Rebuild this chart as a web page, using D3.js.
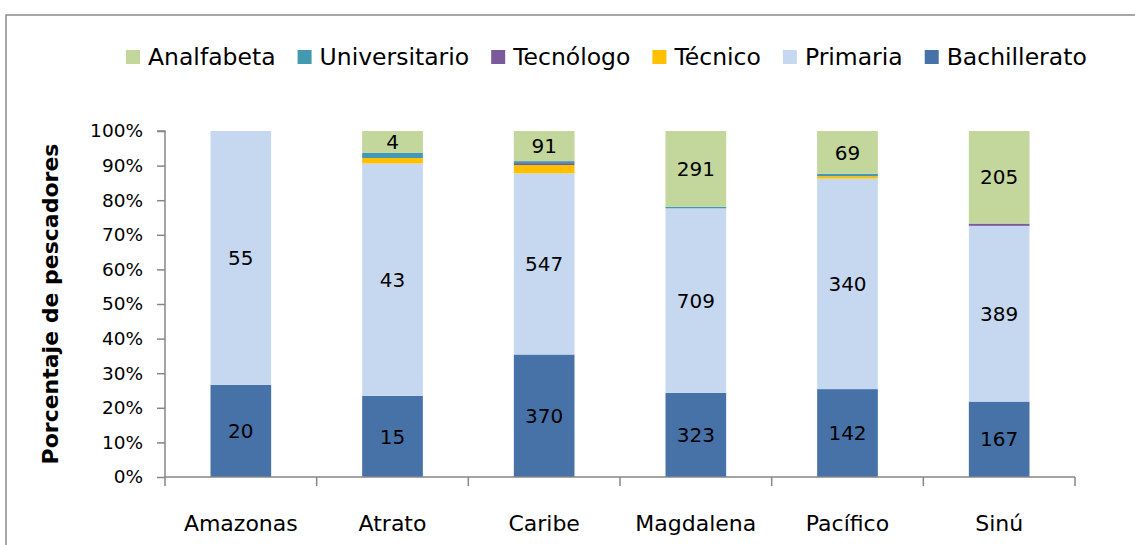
<!DOCTYPE html>
<html>
<head>
<meta charset="utf-8">
<script src="https://cdn.jsdelivr.net/npm/d3@7"></script>
<style>
  body { margin: 0; background: #fff; }
  text { font-family: "DejaVu Sans", sans-serif; fill: #000; }
</style>
</head>
<body>
<script>
// regions along the x axis
const regions = ["Amazonas", "Atrato", "Caribe", "Magdalena", "Pacífico", "Sinú"];
// counts per education level (bottom of the stack first)
const bachillerato  = [20, 15, 370, 323, 142, 167];
const primaria      = [55, 43, 547, 709, 340, 389];
const tecnico       = [0, 1, 25, 0, 4, 0];
const tecnologo     = [0, 0, 6, 0, 0, 5];
const universitario = [0, 1, 6, 6, 4, 0];
const analfabeta    = [0, 4, 91, 291, 69, 205];
// which segments get a value label
const labelled = ["Bachillerato", "Primaria", "Analfabeta"];
const yTicks = [0, 0.1, 0.2, 0.3, 0.4, 0.5, 0.6, 0.7, 0.8, 0.9, 1];

const series = [
  {name: "Bachillerato", values: bachillerato, color: "#4672a8"},
  {name: "Primaria", values: primaria, color: "#c6d8f0"},
  {name: "Técnico", values: tecnico, color: "#ffc000"},
  {name: "Tecnólogo", values: tecnologo, color: "#7a5a98"},
  {name: "Universitario", values: universitario, color: "#4399b0"},
  {name: "Analfabeta", values: analfabeta, color: "#c3d69b"}
];
const legendOrder = ["Analfabeta", "Universitario", "Tecnólogo", "Técnico", "Primaria", "Bachillerato"];

const W = 1135, H = 545;
const margin = {top: 131, right: 60, bottom: 68, left: 165};

const svg = d3.select("body").append("svg")
  .attr("width", W)
  .attr("height", H);

// chart frame (only top and left edges visible)
svg.append("path")
  .attr("d", "M6,545V15H1135")
  .attr("fill", "none")
  .attr("stroke", "#8c8c8c")
  .attr("stroke-width", 1.5);

const rows = regions.map((r, i) => {
  const row = {region: r};
  series.forEach(s => row[s.name] = s.values[i]);
  return row;
});

const stack = d3.stack()
  .keys(series.map(s => s.name))
  .offset(d3.stackOffsetExpand);
const layers = stack(rows);

const x = d3.scaleBand()
  .domain(regions)
  .range([margin.left, W - margin.right])
  .paddingInner(0.6)
  .paddingOuter(0.3);

const y = d3.scaleLinear()
  .domain([0, 1])
  .range([H - margin.bottom, margin.top]);

const color = d3.scaleOrdinal()
  .domain(series.map(s => s.name))
  .range(series.map(s => s.color));

// bars
const g = svg.append("g");
g.selectAll("g.layer")
  .data(layers)
  .join("g")
    .attr("class", "layer")
    .attr("fill", d => color(d.key))
  .selectAll("rect")
  .data(d => d.map(p => Object.assign(p, {key: d.key})))
  .join("rect")
    .attr("x", d => x(d.data.region))
    .attr("width", x.bandwidth())
    .attr("y", d => y(d[1]))
    .attr("height", d => y(d[0]) - y(d[1]));

// value labels
g.selectAll("g.lab")
  .data(layers.filter(l => labelled.includes(l.key)))
  .join("g")
    .attr("class", "lab")
  .selectAll("text")
  .data(d => d.filter(p => p.data[d.key] > 0).map(p => ({p: p, key: d.key})))
  .join("text")
    .attr("x", d => x(d.p.data.region) + x.bandwidth() / 2)
    .attr("y", d => y((d.p[0] + d.p[1]) / 2))
    .attr("dy", "0.36em")
    .attr("text-anchor", "middle")
    .style("font-size", "20px")
    .text(d => d.p.data[d.key]);

// y axis
const yAxis = svg.append("g")
  .attr("transform", `translate(${margin.left},0)`)
  .call(d3.axisLeft(y).tickValues(yTicks).tickFormat(d3.format(".0%")).tickSize(8).tickPadding(14));
yAxis.selectAll("text").style("font-size", "18.5px").attr("fill", "#000");
yAxis.selectAll("line, path").attr("stroke", "#868686").attr("stroke-width", 1.5);
yAxis.select(".domain").attr("d", `M-8,${y(1)}H0V${y(0)}`);

// x axis with ticks between categories
const xAxis = svg.append("g")
  .attr("transform", `translate(0,${y(0)})`);
xAxis.append("line")
  .attr("x1", margin.left).attr("x2", W - margin.right)
  .attr("stroke", "#868686").attr("stroke-width", 1.5);
const bounds = d3.range(regions.length + 1).map(i => margin.left + i * (W - margin.right - margin.left) / regions.length);
xAxis.selectAll("line.tick")
  .data(bounds)
  .join("line")
    .attr("class", "tick")
    .attr("x1", d => d).attr("x2", d => d)
    .attr("y1", 0).attr("y2", 9)
    .attr("stroke", "#868686").attr("stroke-width", 1.5);
xAxis.selectAll("text")
  .data(regions)
  .join("text")
    .attr("x", d => x(d) + x.bandwidth() / 2)
    .attr("y", 54)
    .attr("text-anchor", "middle")
    .style("font-size", "22px")
    .text(d => d);

// y axis title
svg.append("text")
  .attr("transform", `translate(58,${(y(0) + y(1)) / 2}) rotate(-90)`)
  .attr("text-anchor", "middle")
  .style("font-size", "22px")
  .style("font-weight", "bold")
  .text("Porcentaje de pescadores");

// legend
const legend = svg.append("g").attr("transform", "translate(126,57)");
let lx = 0;
legendOrder.forEach(name => {
  const item = legend.append("g").attr("transform", `translate(${lx},0)`);
  item.append("rect")
    .attr("x", 0).attr("y", -7)
    .attr("width", 14).attr("height", 14)
    .attr("fill", color(name));
  const t = item.append("text")
    .attr("x", 22)
    .attr("dy", "0.36em")
    .style("font-size", "23.5px")
    .text(name);
  lx += 22 + t.node().getComputedTextLength() + 22;
});
</script>
</body>
</html>
